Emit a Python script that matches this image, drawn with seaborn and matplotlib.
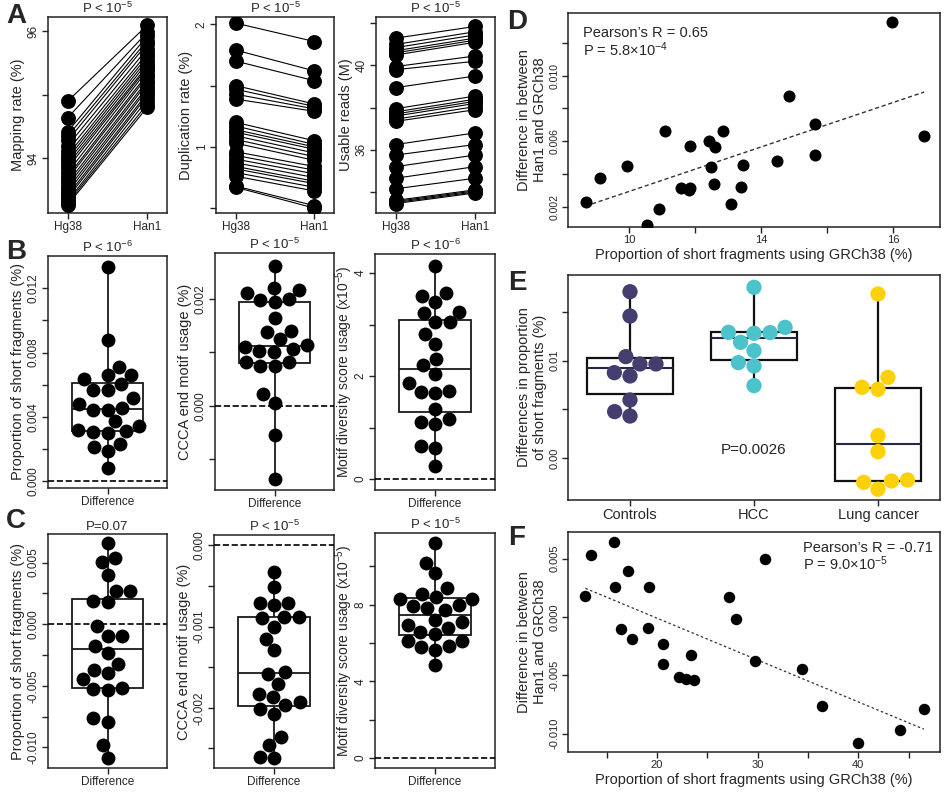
import numpy as np
import pandas as pd
import seaborn as sns
import matplotlib.pyplot as plt
from matplotlib.ticker import FixedLocator, FixedFormatter

# ---- panel A: paired values (Hg38 -> Han1)
map_hg38 = [94.9, 94.64, 94.42, 94.35, 94.28, 94.2, 94.12, 94.05, 94.0, 93.95, 93.9, 93.85,
            93.78, 93.72, 93.68, 93.62, 93.57, 93.52, 93.47, 93.42, 93.38, 93.33, 93.3, 93.27]
map_han1 = [96.09, 95.98, 95.92, 95.85, 95.8, 95.72, 95.65, 95.6, 95.55, 95.5, 95.45, 95.42,
            95.38, 95.32, 95.28, 95.22, 95.18, 95.12, 95.08, 95.02, 94.98, 94.92, 94.85, 94.8]
dup_hg38 = [2.01, 1.79, 1.70, 1.50, 1.47, 1.43, 1.39, 1.20, 1.17, 1.14, 1.12, 1.09,
            1.06, 1.03, 0.96, 0.93, 0.90, 0.87, 0.84, 0.82, 0.79, 0.76, 0.68, 0.67]
dup_han1 = [1.86, 1.62, 1.54, 1.35, 1.33, 1.31, 1.29, 1.05, 1.02, 1.00, 0.98, 0.95,
            0.92, 0.89, 0.84, 0.81, 0.78, 0.75, 0.72, 0.70, 0.67, 0.64, 0.52, 0.50]
reads_hg38 = [41.3, 41.0, 40.85, 40.7, 40.6, 40.5, 39.95, 39.8, 38.95, 37.95, 37.8, 37.7,
              37.6, 37.45, 37.35, 36.25, 35.75, 35.2, 34.65, 34.15, 33.6, 33.55, 33.5, 33.45]
reads_han1 = [41.85, 41.6, 41.45, 41.3, 41.2, 41.1, 40.45, 40.2, 39.5, 38.55, 38.4, 38.3,
              38.2, 38.05, 37.9, 36.8, 36.25, 35.75, 35.2, 34.65, 34.1, 34.05, 34.0, 33.95]

# ---- panels B and C: differences (Han1 - Hg38)
b_short = [0.01331, 0.00877, 0.00661, 0.00661, 0.00711, 0.00634, 0.00603, 0.00566, 0.00566,
           0.00516, 0.00458, 0.00445, 0.00445, 0.00478, 0.00341, 0.00312, 0.00300, 0.00308,
           0.00318, 0.00372, 0.00233, 0.00212, 0.00187, 0.00083]
b_ccca = [0.00262, 0.00211, 0.00217, 0.00220, 0.00198, 0.00194, 0.00199, 0.00165, 0.00140,
          0.00138, 0.00125, 0.00110, 0.00102, 0.00101, 0.00106, 0.00113, 0.00082, 0.00075,
          0.00075, 0.00081, 0.00022, 0.00005, -0.00055, -0.00137]
b_mds = [4.14, 3.56, 3.61, 3.43, 3.23, 3.05, 3.05, 3.25, 2.81, 2.62, 2.34, 2.21,
         2.05, 1.86, 1.70, 1.67, 1.72, 1.36, 1.11, 1.07, 1.16, 0.64, 0.60, 0.26]
c_short = [0.00657, 0.00503, 0.0054, 0.0040, 0.0027, 0.0027, 0.00184, 0.00176, -0.00014,
           -0.00095, -0.00095, -0.00176, -0.00235, -0.00322, -0.00397, -0.0037, -0.00446,
           -0.00527, -0.00532, -0.00519, -0.00762, -0.00792, -0.00978, -0.01086]
c_ccca = [-0.000326, -0.000517, -0.00071, -0.00074, -0.00071, -0.0009, -0.00088, -0.00088,
          -0.001, -0.00115, -0.00129, -0.00156, -0.00158, -0.00171, -0.00183, -0.00187,
          -0.00193, -0.00196, -0.00202, -0.00207, -0.00236, -0.00246, -0.0026, -0.00262]
c_mds = [11.2, 10.2, 9.65, 8.87, 8.56, 8.4, 8.3, 8.3, 8.0, 7.95, 7.74, 7.83,
         7.08, 6.78, 6.96, 7.22, 6.49, 6.56, 6.12, 5.83, 5.77, 6.09, 5.62, 4.87]

# ---- panel D
d_x = [8.68, 9.13, 9.95, 10.55, 10.90, 11.08, 11.58, 11.81, 11.84, 11.84, 12.41, 12.49,
       12.56, 12.6, 12.85, 13.08, 13.38, 13.45, 14.48, 14.83, 15.63, 15.64, 17.96, 18.93]
d_y = [0.00229, 0.00372, 0.00449, 0.00090, 0.00186, 0.00664, 0.00315, 0.00300, 0.00315,
       0.00570, 0.00601, 0.00443, 0.00341, 0.00566, 0.00664, 0.00216, 0.00321, 0.00456,
       0.00476, 0.00877, 0.00705, 0.00515, 0.01327, 0.00631]

# ---- panel E
groups = ['Controls', 'HCC', 'Lung cancer']
e_controls = [0.01706, 0.01457, 0.01041, 0.00966, 0.00966, 0.00877, 0.00843, 0.00597, 0.00478, 0.00433]
e_hcc = [0.01751, 0.0129, 0.0128, 0.01287, 0.01341, 0.01188, 0.01102, 0.0098, 0.00945, 0.00744]
e_lung = [0.01683, 0.00829, 0.00727, 0.00706, 0.00232, 0.00068, -0.00246, -0.00232, -0.00222, -0.00317]
group_colors = ['#433e6e', '#4cc3cb', '#fdd10a']

# ---- panel F
f_x = [12.87, 13.40, 15.69, 15.79, 16.38, 17.11, 17.55, 19.10, 19.17, 20.60, 20.60, 22.16,
       22.92, 23.42, 23.65, 27.16, 27.89, 29.72, 30.71, 34.36, 36.35, 40.00, 44.15, 46.53]
f_y = [0.00177, 0.00529, 0.00643, 0.00257, -0.001, 0.00394, -0.00186, -0.00094, 0.00257,
       -0.00234, -0.004, -0.00514, -0.00529, -0.00323, -0.00543, 0.00171, -0.00014, -0.00377,
       0.00494, -0.00443, -0.00766, -0.0108, -0.00971, -0.00791]

sns.set_style('ticks')
plt.rcParams['font.family'] = ['Liberation Sans', 'DejaVu Sans']
plt.rcParams['mathtext.fontset'] = 'custom'
plt.rcParams['mathtext.rm'] = 'Liberation Sans'
plt.rcParams['mathtext.it'] = 'Liberation Sans:italic'
plt.rcParams['mathtext.bf'] = 'Liberation Sans:bold'
plt.rcParams['axes.linewidth'] = 1.1
plt.rcParams['axes.edgecolor'] = '#222222'

W, H = 947, 793
fig = plt.figure(figsize=(W / 100, H / 100), dpi=100)


def add_ax(l, t, r, b):
    return fig.add_axes([l / W, 1 - b / H, (r - l) / W, (b - t) / H])


def style_y(ax, ylim, ticks, labels, ylabel, size=8.5, lsize=10.5, lpad=2):
    ax.set_ylim(ylim)
    ax.yaxis.set_major_locator(FixedLocator(ticks))
    ax.yaxis.set_major_formatter(FixedFormatter(labels))
    ax.tick_params(direction='out', length=4, width=1, color='#222222', labelsize=size, pad=2)
    ax.tick_params(axis='y', labelrotation=90)
    for t in ax.get_yticklabels():
        t.set_verticalalignment('center')
    ax.set_ylabel(ylabel, fontsize=lsize, labelpad=lpad)
    for s in ax.spines.values():
        s.set_visible(True)


def paired_panel(box, hg, han, ylim, ticks, labels, ylabel):
    ax = add_ax(*box)
    n = len(hg)
    df = pd.DataFrame({'id': list(range(n)) * 2,
                       'ref': ['Hg38'] * n + ['Han1'] * n,
                       'val': hg + han})
    sns.lineplot(data=df, x='ref', y='val', units='id', estimator=None,
                 color='black', lw=0.8, ax=ax)
    sns.scatterplot(data=df, x='ref', y='val', color='black', s=115, linewidth=0,
                    ax=ax, zorder=3)
    ax.set_xlim(-0.25, 1.25)
    ax.set_xlabel('')
    ax.tick_params(axis='x', labelsize=9.5)
    style_y(ax, ylim, ticks, labels, ylabel)
    ax.set_title('P < 10$^{-5}$', fontsize=9.5, pad=3)
    return ax


def diff_panel(box, vals, ylim, ticks, labels, ylabel, title, lsize=10.5, lpad=2):
    ax = add_ax(*box)
    df = pd.DataFrame({'grp': 'Difference', 'val': vals})
    ax.set_ylim(ylim)
    ax.axhline(0, ls='--', color='black', lw=1.2, zorder=3)
    sns.boxplot(data=df, x='grp', y='val', width=0.6, whis=(0, 100), showcaps=False,
                color='white', linecolor='#1a1a1a', linewidth=1.3, ax=ax)
    sns.swarmplot(data=df, x='grp', y='val', color='black', size=10, ax=ax, zorder=4)
    ax.set_xlabel('')
    ax.tick_params(axis='x', labelsize=9.5)
    style_y(ax, ylim, ticks, labels, ylabel, lsize=lsize, lpad=lpad)
    ax.set_title(title, fontsize=9.5, pad=3)
    return ax


# Row A
paired_panel((48, 17, 167, 213), map_hg38, map_han1, (93.14, 96.22),
             [94, 95, 96], ['94', '', '96'], 'Mapping rate (%)')
paired_panel((216, 17, 334, 213), dup_hg38, dup_han1, (0.46, 2.06),
             [0.5, 1, 1.5, 2], ['', '1', '', '2'], 'Duplication rate (%)')
paired_panel((376, 17, 495, 213), reads_hg38, reads_han1, (33.0, 42.3),
             [34, 36, 38, 40, 42], ['', '36', '', '40', ''], 'Usable reads (M)')

# Row B
diff_panel((48, 256, 167, 488), b_short, (-0.00042, 0.0140),
           [0, 0.002, 0.004, 0.006, 0.008, 0.010, 0.012],
           ['0.000', '', '0.004', '', '0.008', '', '0.012'],
           'Proportion of short fragments (%)', 'P < 10$^{-6}$')
diff_panel((215, 253, 334, 490), b_ccca, (-0.00158, 0.00286),
           [-0.001, 0, 0.001, 0.002], ['', '0.000', '', '0.002'],
           'CCCA end motif usage (%)', 'P < 10$^{-5}$')
diff_panel((375, 254, 495, 490), b_mds, (-0.21, 4.37),
           [0, 1, 2, 3, 4], ['0', '', '2', '', '4'],
           'Motif diversity score usage (x10$^{-5}$)', 'P < 10$^{-6}$', lsize=10, lpad=0)

# Row C
diff_panel((48, 534, 167, 768), c_short, (-0.01168, 0.00732),
           [-0.01, -0.0075, -0.005, -0.0025, 0, 0.0025, 0.005],
           ['-0.010', '', '-0.005', '', '0.000', '', '0.005'],
           'Proportion of short fragments (%)', 'P=0.07')
diff_panel((214, 535, 334, 768), c_ccca, (-0.00274, 0.000126),
           [-0.0025, -0.002, -0.0015, -0.001, -0.0005, 0],
           ['', '-0.002', '', '-0.001', '', '0.000'],
           'CCCA end motif usage (%)', 'P < 10$^{-5}$')
diff_panel((375, 533, 495, 768), c_mds, (-0.52, 11.74),
           [0, 2, 4, 6, 8, 10], ['0', '', '4', '', '8', ''],
           'Motif diversity score usage (x10$^{-5}$)', 'P < 10$^{-5}$', lsize=10, lpad=0)

# Panel D
axd = add_ax(568, 13, 940, 227)
sns.regplot(x=d_x, y=d_y, scatter=False, ci=None, ax=axd,
            line_kws=dict(ls=(0, (3, 2)), color='#333333', lw=1.0))
sns.scatterplot(x=d_x, y=d_y, color='black', s=75, linewidth=0, ax=axd, zorder=3)
axd.set_xlim(8.15, 19.41)
axd.xaxis.set_major_locator(FixedLocator([10, 12, 14, 16, 18]))
axd.xaxis.set_major_formatter(FixedFormatter(['10', '', '14', '', '16']))
style_y(axd, (0.00075, 0.01384), [0.002, 0.004, 0.006, 0.008, 0.010, 0.012],
        ['0.002', '', '0.006', '', '0.010', ''],
        'Difference in between\nHan1 and GRCh38', size=7.5)
axd.tick_params(axis='x', labelsize=8)
axd.set_xlabel('Proportion of short fragments using GRCh38 (%)', fontsize=10.5, labelpad=2)
axd.text(0.04, 0.905, 'Pearson’s R = 0.65', transform=axd.transAxes, fontsize=10.5,
         va='center')
axd.text(0.04, 0.83, 'P = 5.8×10$^{-4}$', transform=axd.transAxes, fontsize=10.5,
         va='center')

# Panel E
axe = add_ax(568, 275, 940, 500)
e_df = pd.DataFrame({'group': ['Controls'] * len(e_controls) + ['HCC'] * len(e_hcc)
                     + ['Lung cancer'] * len(e_lung),
                     'val': e_controls + e_hcc + e_lung})
axe.set_ylim(-0.00427, 0.01877)
sns.boxplot(data=e_df, x='group', y='val', order=groups, width=0.7, whis=(0, 100),
            showcaps=False, color='white', linecolor='#111111', linewidth=1.6,
            medianprops=dict(color='#2b2646', lw=1.5), ax=axe)
sns.swarmplot(data=e_df, x='group', y='val', order=groups, hue='group', hue_order=groups,
              palette=group_colors, size=11, legend=False, ax=axe, zorder=4)
axe.set_xlabel('')
style_y(axe, (-0.00427, 0.01877), [0, 0.005, 0.01, 0.015], ['0.00', '', '0.01', ''],
        'Differences in proportion\nof short fragments (%)', size=8)
axe.tick_params(axis='x', labelsize=10.5)
axe.text(1, 0.00085, 'P=0.0026', ha='center', va='center', fontsize=11)

# Panel F
axf = add_ax(568, 532, 940, 752)
sns.regplot(x=f_x, y=f_y, scatter=False, ci=None, ax=axf,
            line_kws=dict(ls=(0, (2, 2)), color='#333333', lw=0.9))
sns.scatterplot(x=f_x, y=f_y, color='black', s=68, linewidth=0, ax=axf, zorder=3)
axf.set_xlim(11.14, 48.13)
axf.xaxis.set_major_locator(FixedLocator([15, 20, 25, 30, 35, 40, 45]))
axf.xaxis.set_major_formatter(FixedFormatter(['', '20', '', '30', '', '40', '']))
style_y(axf, (-0.01157, 0.00729), [-0.01, -0.005, 0, 0.005],
        ['-0.010', '-0.005', '0.000', '0.005'],
        'Difference in between\nHan1 and GRCh38', size=8)
axf.tick_params(axis='x', labelsize=8)
axf.set_xlabel('Proportion of short fragments using GRCh38 (%)', fontsize=10.5, labelpad=2)
axf.text(0.632, 0.925, 'Pearson’s R = -0.71', transform=axf.transAxes, fontsize=10.5,
         va='center')
axf.text(0.632, 0.855, 'P = 9.0×10$^{-5}$', transform=axf.transAxes, fontsize=10.5,
         va='center')

# Panel letters
for letter, x, y in [('A', 16, 16), ('B', 16, 252), ('C', 16, 521),
                     ('D', 517, 22), ('E', 517, 283), ('F', 517, 538)]:
    fig.text(x / W, 1 - y / H, letter, fontsize=20, fontweight='bold',
             ha='center', va='center')

fig.savefig('out.png', dpi=100)
